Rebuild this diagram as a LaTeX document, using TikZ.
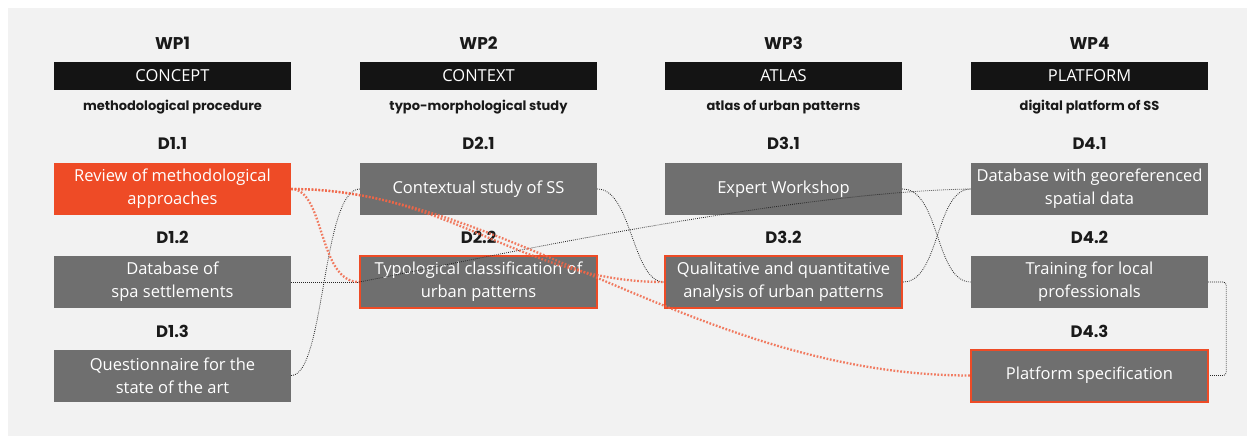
\documentclass[tikz,border=0pt]{standalone}
\usepackage{fontspec}
\setmainfont{Open Sans}
\newfontfamily\headfont{Poppins}
\definecolor{bggray}{HTML}{F2F2F2}
\definecolor{boxgray}{HTML}{6F6F6F}
\definecolor{accent}{HTML}{EE4B26}
\definecolor{barblack}{HTML}{141414}
\definecolor{labelblack}{HTML}{1A1A1A}
\begin{document}
\begin{tikzpicture}[x=1pt,y=-1pt,
  box/.style={fill=boxgray, text=white, minimum width=237pt, minimum height=52pt,
    inner sep=0pt, align=center, font=\fontsize{16.5}{23}\selectfont},
  redbox/.style={box, draw=accent, line width=2pt},
  orangebox/.style={box, fill=accent},
  bar/.style={fill=barblack, text=white, minimum width=237pt, minimum height=28pt,
    inner sep=0pt, font=\fontsize{16.5}{19}\selectfont},
  wplabel/.style={text=labelblack, inner sep=0pt, font=\headfont\bfseries\fontsize{17}{20}\selectfont},
  dlabel/.style={text=labelblack, inner sep=0pt, font=\headfont\bfseries\fontsize{16.5}{19}\selectfont},
  sublabel/.style={text=labelblack, inner sep=0pt, font=\headfont\bfseries\fontsize{13}{15}\selectfont},
  blink/.style={draw=black!85, line width=0.8pt, dash pattern=on 0.8pt off 1.2pt},
  rlink/.style={draw=accent!85!white, line width=2.3pt, dash pattern=on 1.7pt off 1.7pt, opacity=0.85}
]
\useasboundingbox (0,0) rectangle (1255,439);
\fill[white] (0,0) rectangle (1255,439);
\fill[bggray] (8,8) rectangle (1247,436);

% column headers
\node[wplabel] (wp1) at (172.5,43) {WP1};
\node[wplabel] (wp2) at (478.5,43) {WP2};
\node[wplabel] (wp3) at (783.5,43) {WP3};
\node[wplabel] (wp4) at (1089.5,43) {WP4};

\node[bar] (bar1) at (172.5,76) {CONCEPT};
\node[bar] (bar2) at (478.5,76) {CONTEXT};
\node[bar] (bar3) at (783.5,76) {ATLAS};
\node[bar] (bar4) at (1089.5,76) {PLATFORM};

\node[sublabel] (sub1) at (172.5,107.5) {methodological procedure};
\node[sublabel] (sub2) at (478.5,107.5) {typo-morphological study};
\node[sublabel] (sub3) at (783.5,107.5) {atlas of urban patterns};
\node[sublabel] (sub4) at (1089.5,107.5) {digital platform of SS};

% deliverable labels
\node[dlabel] (l11) at (172.5,143.5) {D1.1};
\node[dlabel] (l12) at (172.5,237.5) {D1.2};
\node[dlabel] (l13) at (172.5,331) {D1.3};
\node[dlabel] (l21) at (478.5,143.5) {D2.1};
\node[dlabel] (l22) at (478.5,237.5) {D2.2};
\node[dlabel] (l31) at (783.5,143.5) {D3.1};
\node[dlabel] (l32) at (783.5,237.5) {D3.2};
\node[dlabel] (l41) at (1089.5,143.5) {D4.1};
\node[dlabel] (l42) at (1089.5,237.5) {D4.2};
\node[dlabel] (l43) at (1089.5,331) {D4.3};

% boxes
\node[orangebox] (D11) at (172.5,189) {Review of methodological\\approaches};
\node[box] (D12) at (172.5,282) {Database of\\spa settlements};
\node[box] (D13) at (172.5,375.5) {Questionnaire for the\\state of the art};
\node[box] (D21) at (478.5,189) {Contextual study of SS};
\node[redbox] (D22) at (478.5,282) {Typological classification of\\urban patterns};
\node[box] (D31) at (783.5,189) {Expert Workshop};
\node[redbox] (D32) at (783.5,282) {Qualitative and quantitative\\analysis of urban patterns};
\node[box] (D41) at (1089.5,189) {Database with georeferenced\\spatial data};
\node[box] (D42) at (1089.5,282) {Training for local\\professionals};
\node[redbox] (D43) at (1089.5,375.5) {Platform specification};

% black dotted connectors
\draw[blink] (D12.east) -- (D22.west);
\draw[blink] (D13.east) .. controls (325,375.5) and (322,189) .. (D21.west);
\draw[blink] (D21.east) .. controls (632,189) and (632,282) .. (D32.west);
\draw[blink] (D22.west) .. controls (450,265) and (780,192) .. (D41.west);
\draw[blink] (D31.east) .. controls (940,189) and (935,282) .. (D42.west);
\draw[blink] (D32.east) .. controls (940,282) and (935,189) .. (D41.west);
\draw[blink, rounded corners=3pt] (D42.east) -- ++(18,0) |- (D43.east);

% red dotted connectors
\draw[rlink] (D11.east) .. controls (325,189) and (318,282) .. (D22.west);
\draw[rlink] (D11.east) .. controls (450,189) and (520,282) .. (D32.west);
\draw[rlink] (D11.east) .. controls (500,189) and (700,375.5) .. (D43.west);
\end{tikzpicture}
\end{document}
